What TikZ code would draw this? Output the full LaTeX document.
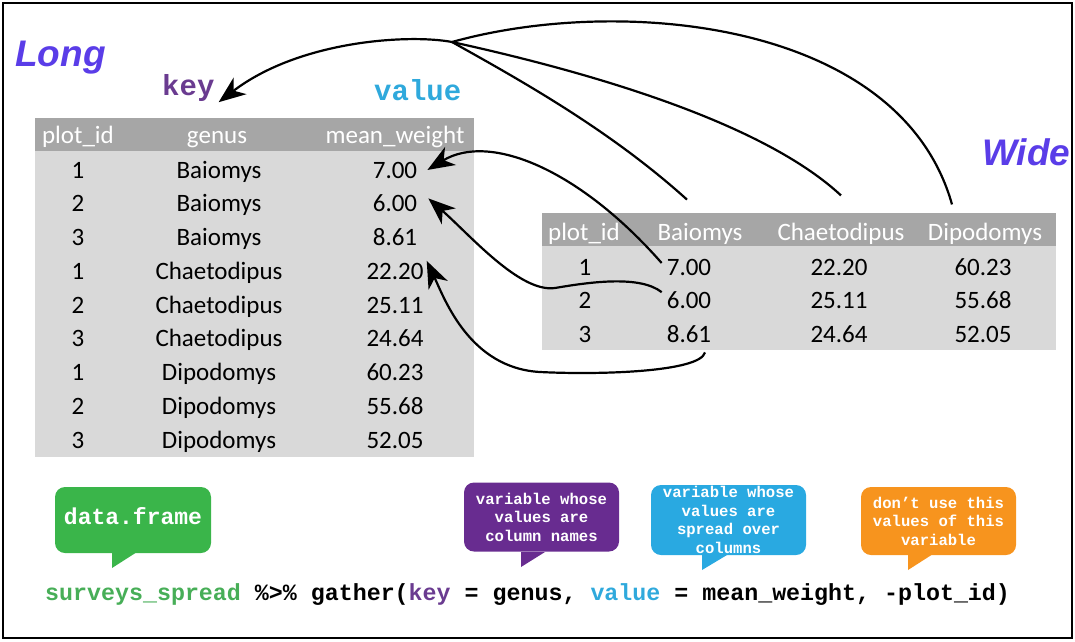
\documentclass[tikz,border=0pt]{standalone}
\usepackage{fontspec}
\setmainfont{Carlito}
\newfontfamily\monof{Liberation Mono}
\newfontfamily\titlef{Liberation Sans}
\usetikzlibrary{arrows.meta}
\definecolor{hdr}{HTML}{A6A6A6}
\definecolor{bodyc}{HTML}{D9D9D9}
\definecolor{titlec}{HTML}{5A3DE8}
\definecolor{keyc}{HTML}{6A3B90}
\definecolor{valc}{HTML}{2FA9DC}
\definecolor{gc}{HTML}{3AB54A}
\definecolor{gtext}{HTML}{47AE57}
\definecolor{pc}{HTML}{682C90}
\definecolor{bc}{HTML}{29A9E1}
\definecolor{oc}{HTML}{F7941E}
\tikzset{
  cell/.style={font=\fontsize{25}{25}\selectfont, text=black, inner sep=0pt, anchor=base},
  hcell/.style={cell, text=white},
  title/.style={font=\titlef\bfseries\itshape\fontsize{37}{37}\selectfont, text=titlec, inner sep=0pt, anchor=base west},
  codelbl/.style={font=\monof\bfseries\fontsize{29}{29}\selectfont, inner sep=0pt, anchor=base west},
  conn/.style={line width=2.2pt, black},
  arr/.style={conn, -{Stealth[length=27pt,width=21pt,inset=8pt]}},
  bubble/.style={rounded corners=10pt, inner sep=0pt, align=center, text=white,
    font=\monof\bfseries\fontsize{15.6}{18.5}\selectfont},
}
\begin{document}
\begin{tikzpicture}[x=1pt,y=-1pt]
\useasboundingbox (0,0) rectangle (1075,641);
\draw[line width=2pt] (3,3) rectangle (1072,638);

% titles
\node[title] (long) at (15,66) {Long};
\node[title] (wide) at (982,165) {Wide};
\node[codelbl, text=keyc] (key) at (162,95) {key};
\node[codelbl, text=valc] (value) at (374,100) {value};

% long table
\fill[hdr] (35,118) rectangle (474,151);
\fill[bodyc] (35,151) rectangle (474,457);
\node[hcell] (lh1) at (78,143.5) {plot\_id};
\node[hcell] (lh2) at (217,143.5) {genus};
\node[hcell] (lh3) at (395,143.5) {mean\_weight};
\foreach \i/\p/\g/\w in {1/1/Baiomys/7.00, 2/2/Baiomys/6.00, 3/3/Baiomys/8.61,
  4/1/Chaetodipus/22.20, 5/2/Chaetodipus/25.11, 6/3/Chaetodipus/24.64,
  7/1/Dipodomys/60.23, 8/2/Dipodomys/55.68, 9/3/Dipodomys/52.05}{
  \node[cell] (lp\i) at (78,{178+33.75*(\i-1)}) {\p};
  \node[cell] (lg\i) at (219,{178+33.75*(\i-1)}) {\g};
  \node[cell] (lw\i) at (395,{178+33.75*(\i-1)}) {\w};
}

% wide table
\fill[hdr] (542,213) rectangle (1056,246);
\fill[bodyc] (542,246) rectangle (1056,350);
\node[hcell] (wh1) at (584,240) {plot\_id};
\node[hcell] (wh2) at (700,240) {Baiomys};
\node[hcell] (wh3) at (841,240) {Chaetodipus};
\node[hcell] (wh4) at (985,240) {Dipodomys};
\foreach \i/\a/\b/\c in {1/7.00/22.20/60.23, 2/6.00/25.11/55.68, 3/8.61/24.64/52.05}{
  \node[cell] (wp\i) at (585,{275+33.5*(\i-1)}) {\i};
  \node[cell] (wb\i) at (689,{275+33.5*(\i-1)}) {\a};
  \node[cell] (wc\i) at (839,{275+33.5*(\i-1)}) {\b};
  \node[cell] (wd\i) at (983,{275+33.5*(\i-1)}) {\c};
}

% connectors: column names -> key
\coordinate (conv) at (452,42);
\coordinate (kb) at ([xshift=-13pt,yshift=23pt]wh2.north);
\coordinate (kc) at ([yshift=27pt]wh3.north);
\coordinate (kd) at ([xshift=-33pt,yshift=18pt]wh4.north);
\draw[conn] (kb) .. controls (610,130) and (520,80) .. (conv);
\draw[conn] (kc) .. controls (760,120) and (580,70) .. (conv);
\draw[conn] (kd) .. controls (900,20) and (620,-5) .. (conv);
\draw[arr] (conv) .. controls (410,34) and (300,40) .. ([xshift=4pt,yshift=-1pt]key.south east);

% connectors: values
\draw[arr] ([xshift=-5pt,yshift=4pt]wb1.west) .. controls (580,170) and (490,132) .. ([xshift=10pt]lw1.east);
\draw[arr] ([xshift=-5pt,yshift=8pt]wb2.west) .. controls (640,275) and (590,282) .. (555,288)
  .. controls (520,293) and (470,235) .. ([xshift=11pt,yshift=5pt]lw2.east);
\draw[arr] ([xshift=16pt,yshift=-10pt]wb3.south) .. controls (700,372) and (600,375) .. (540,372)
  .. controls (470,368) and (445,300) .. ([xshift=3pt,yshift=2pt]lw4.north east);

% bubbles
\fill[gc] (112,552) -- (112,568) -- (137,552) -- cycle;
\node[bubble, fill=gc, minimum width=156pt, minimum height=66pt, text depth=8pt, font=\monof\bfseries\fontsize{23}{23}\selectfont] (bg) at (133,520) {data.frame};
\fill[pc] (521,552) -- (521,567) -- (545,552) -- cycle;
\node[bubble, fill=pc, minimum width=155pt, minimum height=69pt] (bp) at (541.5,517) {variable whose\\values are\\column names};
\fill[bc] (702,555) -- (702,570) -- (727,555) -- cycle;
\node[bubble, fill=bc, minimum width=155pt, minimum height=70pt] (bb) at (728.5,520) {variable whose\\values are\\spread over\\columns};
\fill[oc] (908,554) -- (908,570) -- (933,554) -- cycle;
\node[bubble, fill=oc, minimum width=155pt, minimum height=68pt] (bo) at (938.5,521) {don’t use this\\values of this\\variable};

% code line
\node[font=\monof\bfseries\fontsize{23.3}{23.3}\selectfont, inner sep=0pt, anchor=base west] (code) at (45,600)
 {\textcolor{gtext}{surveys\_spread} \%>\% gather(\textcolor{keyc}{key} = genus, \textcolor{valc}{value} = mean\_weight, -plot\_id)};
\end{tikzpicture}
\end{document}
